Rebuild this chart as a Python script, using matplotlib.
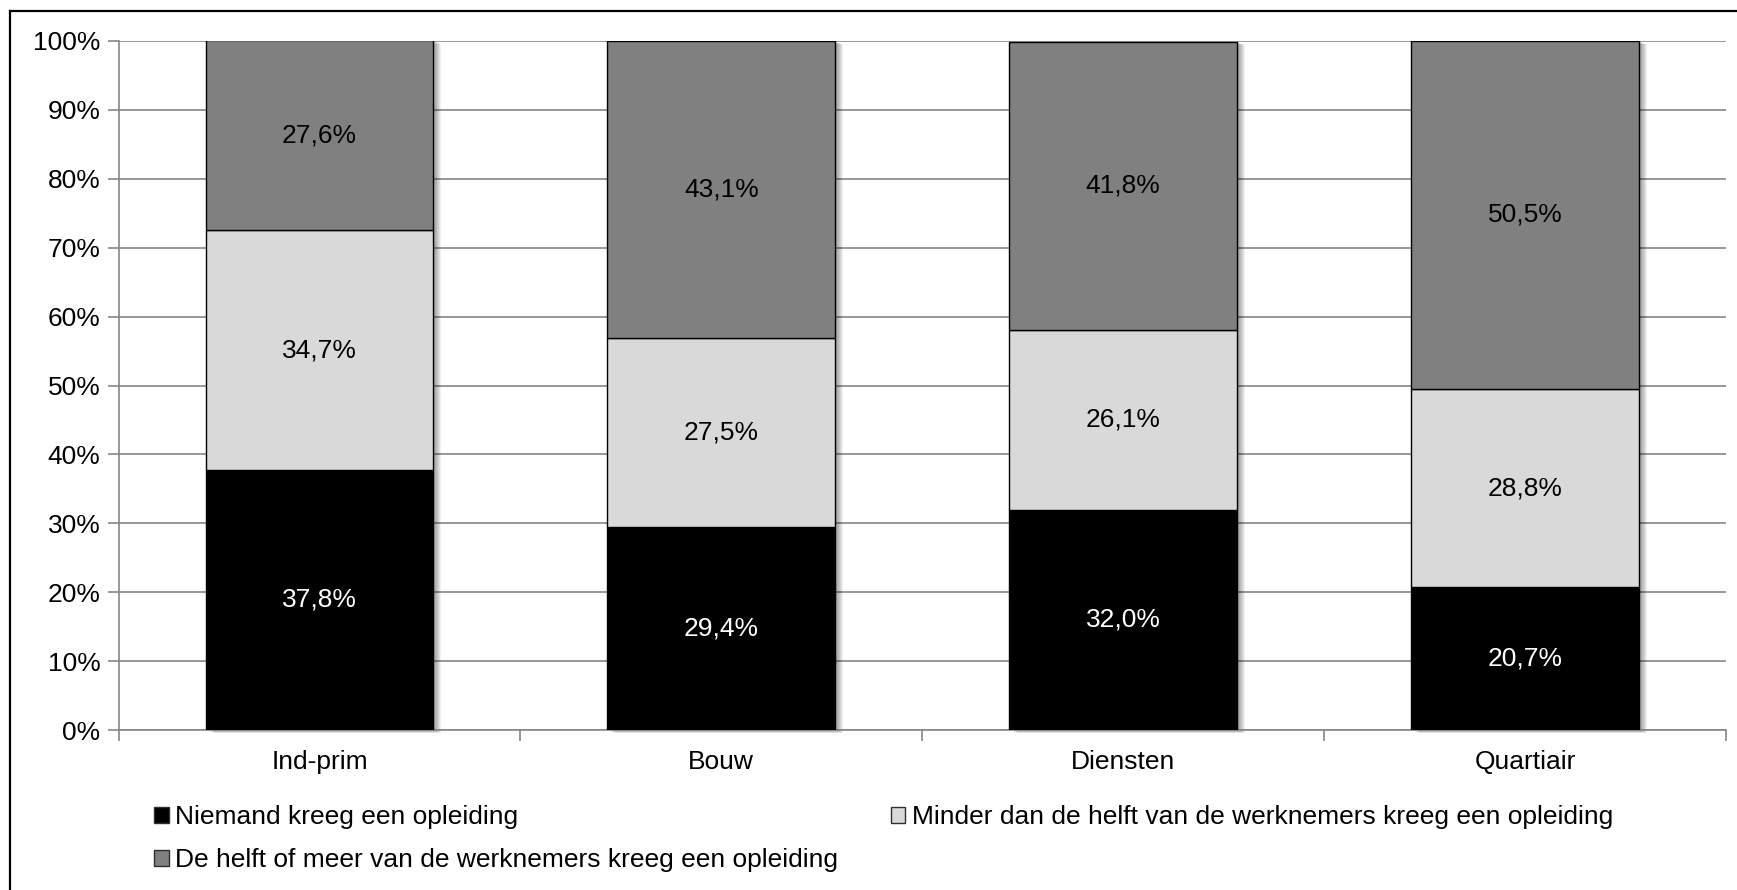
import matplotlib.pyplot as plt
from matplotlib.lines import Line2D
from matplotlib.patches import Rectangle
import numpy as np

plt.rcParams['font.family'] = ['Liberation Sans', 'DejaVu Sans']

sectors = ['Ind-prim', 'Bouw', 'Diensten', 'Quartiair']
niemand = [37.8, 29.4, 32.0, 20.7]
minder = [34.7, 27.5, 26.1, 28.8]
helft = [27.6, 43.1, 41.8, 50.5]

series_names = ['Niemand kreeg een opleiding',
                'Minder dan de helft van de werknemers kreeg een opleiding',
                'De helft of meer van de werknemers kreeg een opleiding']
colors = ['#000000', '#d9d9d9', '#808080']
text_colors = ['white', 'black', 'black']

W, H = 1737, 890
fig = plt.figure(figsize=(W / 100, H / 100), dpi=100)
ax = fig.add_axes([118.5 / W, 1 - 730 / H, (1726 - 118.5) / W, (730 - 41) / H])

x = np.arange(len(sectors))
width = 0.567
gray = '#868686'
fs = 19

ax.set_xlim(-0.5, len(sectors) - 0.5)
ax.set_ylim(0, 100)

# soft drop shadow behind each full stack
totals = np.array(niemand) + np.array(minder) + np.array(helft)
px_x = len(sectors) / (1726 - 118.5)
px_y = 100 / (730 - 41)
for k in range(1, 9):
    for xi, t in zip(x, totals):
        ax.add_patch(Rectangle((xi - width / 2 + k * px_x, -k * px_y * 0.4),
                               width, t, facecolor='black', edgecolor='none',
                               alpha=0.06, zorder=2.5, clip_on=False))

bottom = np.zeros(len(sectors))
bars = []
for vals, col, tcol, name in zip([niemand, minder, helft], colors, text_colors, series_names):
    b = ax.bar(x, vals, width=width, bottom=bottom, color=col,
               edgecolor='black', linewidth=1.0, label=name, zorder=3)
    for xi, v, b0 in zip(x, vals, bottom):
        ax.text(xi, b0 + v / 2, ('%.1f%%' % v).replace('.', ','),
                ha='center', va='center', color=tcol, fontsize=fs, zorder=4)
    bars.append(b)
    bottom = bottom + np.array(vals)

ax.set_yticks(np.arange(0, 101, 10))
ax.set_yticklabels(['%d%%' % v for v in range(0, 101, 10)])
ax.yaxis.grid(True, color=gray, linewidth=1.2, zorder=0)
ax.set_axisbelow(True)

ax.set_xticks(x)
ax.set_xticklabels(sectors)
ax.set_xticks(np.arange(-0.5, len(sectors)), minor=True)
ax.tick_params(axis='x', which='major', length=0, pad=14.5, labelsize=fs)
ax.tick_params(axis='x', which='minor', length=8, color=gray, width=1.2)
ax.tick_params(axis='y', length=8, color=gray, width=1.2, pad=5, labelsize=fs)

for s in ['top', 'right']:
    ax.spines[s].set_visible(False)
for s in ['left', 'bottom']:
    ax.spines[s].set_color(gray)
    ax.spines[s].set_linewidth(1.2)

handles = [bars[0], bars[2], bars[1]]
labels = [series_names[0], series_names[2], series_names[1]]
leg = fig.legend(handles, labels, loc='upper left',
                 bbox_to_anchor=(154 / W, 1 - 805 / H),
                 ncol=2, frameon=False, fontsize=fs, handlelength=0.55,
                 handleheight=0.55, handletextpad=0.25, columnspacing=2.0,
                 labelspacing=0.72, borderaxespad=0, borderpad=0)
for h in leg.legend_handles:
    h.set_edgecolor('#303030')
    h.set_linewidth(1.0)

# chart border: only top and left edges fall inside the image
fig.add_artist(Line2D([9.5 / W, 1], [1 - 10.5 / H, 1 - 10.5 / H],
                      transform=fig.transFigure, color='black', linewidth=1.6))
fig.add_artist(Line2D([9.5 / W, 9.5 / W], [0, 1 - 10.5 / H],
                      transform=fig.transFigure, color='black', linewidth=1.6))

fig.savefig('out.png', dpi=100)
